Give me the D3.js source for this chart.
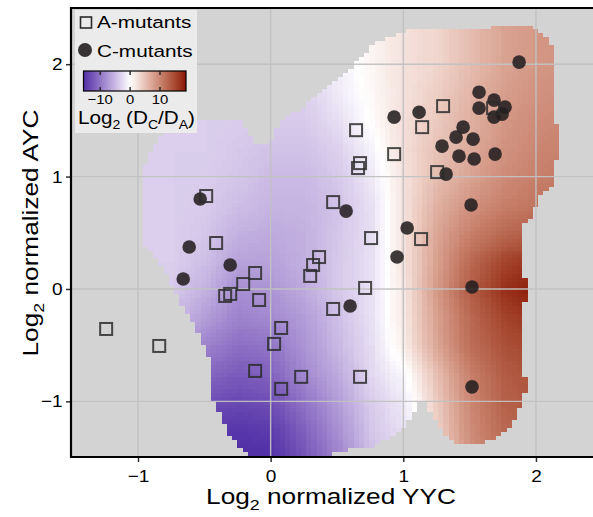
<!DOCTYPE html>
<html>
<head>
<meta charset="utf-8">
<script src="https://cdn.jsdelivr.net/npm/d3@7"></script>
<style>
  body { margin: 0; background: #fff; }
  text { font-family: "Liberation Sans", Arial, Helvetica, sans-serif; fill: #000; }
</style>
</head>
<body>
<svg id="chart" width="593" height="517"></svg>
<script>
"use strict";

// Surface grid, Log2(DC/DA) (rows top to bottom)
const gridX = [-1, -0.75, -0.5, -0.25, 0, 0.25, 0.5, 0.75, 1, 1.25, 1.5, 1.75, 2, 2.25];
const gridY = [2.5, 2.25, 2, 1.75, 1.5, 1.25, 1, 0.75, 0.5, 0.25, 0, -0.25, -0.5, -0.75, -1, -1.25, -1.5];
const gridZ = [
  [-2.5, -2.5, -2.5, -2.5, -2, -1.5, -0.5, 1, 2.5, 3.5, 5.5, 7.5, 8.5, 9],
  [-2.5, -2.5, -2.5, -2.5, -2, -1.5, -0.5, 0.8, 2.5, 3.5, 5.5, 7.5, 8.5, 9],
  [-3, -3, -3, -3, -3, -2.5, -1, 0.8, 2.5, 3.5, 5.5, 7.5, 8.5, 9],
  [-3, -3, -3, -3.3, -3.5, -3.2, -1.5, 0.5, 2.5, 4, 6, 8, 9, 9.5],
  [-3.2, -3.2, -3.3, -3.5, -3.7, -3.7, -2.2, 0.3, 2.8, 4.5, 6.5, 8.5, 9.5, 10],
  [-3.3, -3.3, -3.4, -3.8, -4.3, -4.3, -3.2, -0.8, 2.8, 5, 7, 9, 10, 10.5],
  [-3.3, -3.3, -3.5, -4, -4.8, -4.8, -3.8, -1.5, 2.5, 5.5, 7.5, 9.5, 10.5, 11],
  [-3.3, -3.3, -3.7, -4.5, -5.3, -5.3, -4.3, -2, 2.5, 6.5, 9, 10.5, 11.5, 12],
  [-3.3, -3.4, -4, -5.5, -6, -5.5, -4, -2.2, 2.5, 7.5, 10.5, 12.5, 13.5, 14],
  [-3.3, -3.4, -4.5, -6.5, -6.5, -5.5, -3.8, -2, 2.5, 8, 12.5, 15.5, 17, 17.5],
  [-3.5, -3.7, -5.5, -8, -7.5, -6, -3.8, -2, 2.2, 8.5, 13.5, 17, 18.5, 18.5],
  [-4.5, -4.7, -7, -9, -8.5, -7, -4.5, -2, 2, 8, 12.5, 15.5, 17, 17.5],
  [-6.5, -6.7, -9, -10.5, -10, -7.5, -5, -2.3, 1.5, 7.5, 12, 14.5, 15.5, 16],
  [-8.5, -9, -11, -12, -11.5, -8.5, -6, -2.7, -0.5, 5.5, 10.5, 13.5, 14.5, 15],
  [-10.5, -11, -13, -13.5, -13, -10, -7, -3.5, -1.5, 4.5, 10, 13, 14, 14.5],
  [-12.5, -13, -14.5, -15, -14.5, -11.5, -8, -4, -2, 4, 9.5, 12.5, 13.5, 14],
  [-13.5, -14, -15.5, -15.5, -15.5, -12.5, -9, -4.5, -2.5, 3.5, 9, 12, 13, 13.5]
];

// Outline of the covered region (x = YYC, y = AYC)
const maskOutline = [
  [-0.983, 0.436], [-0.983, 0.969], [-0.961, 1.084], [-0.893, 1.236], [-0.832, 1.351],
  [-0.72, 1.431], [-0.607, 1.484], [-0.207, 1.484], [-0.132, 1.298], [-0.004, 1.298],
  [0.034, 1.387], [0.109, 1.547], [0.222, 1.591], [0.298, 1.68], [0.411, 1.787],
  [0.501, 1.858], [0.599, 1.964], [0.69, 2.062], [0.765, 2.169], [0.885, 2.24],
  [1.089, 2.311], [1.564, 2.311], [1.729, 2.347], [1.955, 2.356], [2.0, 2.302],
  [2.084, 2.24], [2.121, 2.151], [2.121, 1.476], [2.159, 1.476], [2.159, 1.12],
  [2.121, 1.12], [2.121, 0.907], [2.084, 0.88], [2.038, 0.836], [2.0, 0.747],
  [1.955, 0.613], [1.88, 0.551], [1.88, 0.107], [1.925, 0.107], [1.925, -0.116],
  [1.88, -0.116], [1.88, -0.764], [1.925, -0.764], [1.925, -0.924], [1.88, -0.924],
  [1.88, -1.076], [1.843, -1.164], [1.797, -1.236], [1.752, -1.28], [1.714, -1.316],
  [1.639, -1.36], [1.368, -1.36], [1.33, -1.316], [1.292, -1.253], [1.255, -1.191],
  [1.187, -1.076], [1.142, -0.96], [1.089, -1.076], [1.051, -1.164], [1.014, -1.236],
  [0.923, -1.298], [0.84, -1.36], [0.765, -1.404], [0.486, -1.449], [0.471, -1.52],
  [-0.154, -1.52], [-0.23, -1.404], [-0.283, -1.342], [-0.32, -1.271], [-0.358, -1.191],
  [-0.396, -1.102], [-0.434, -0.96], [-0.441, -0.693], [-0.479, -0.56], [-0.516, -0.48],
  [-0.554, -0.364], [-0.592, -0.276], [-0.637, -0.204], [-0.674, -0.124], [-0.712, -0.036],
  [-0.757, 0.053], [-0.81, 0.169], [-0.87, 0.276], [-0.923, 0.347]
];

// A-mutants (open squares)
const aMutants = [
  [-1.24, -0.356], [-0.84, -0.507], [-0.486, 0.827], [-0.411, 0.409], [-0.117, 0.142],
  [-0.207, 0.044], [-0.305, -0.044], [-0.343, -0.062], [-0.087, -0.098], [-0.117, -0.729],
  [0.079, -0.347], [0.026, -0.489], [0.079, -0.889], [0.23, -0.782], [0.674, -0.782],
  [0.471, -0.178], [0.712, 0.009], [0.365, 0.284], [0.32, 0.213], [0.298, 0.116],
  [0.471, 0.773], [0.757, 0.453], [1.134, 0.444], [0.644, 1.413], [0.674, 1.12],
  [0.659, 1.076], [0.931, 1.2], [1.142, 1.44], [1.3, 1.627], [1.255, 1.04], [1.677, 1.609]
];

// C-mutants (filled circles)
const cMutants = [
  [-0.531, 0.8], [-0.614, 0.373], [-0.305, 0.213], [-0.659, 0.089], [0.569, 0.693],
  [0.599, -0.151], [1.873, 2.018], [1.571, 1.751], [1.684, 1.68], [1.571, 1.609],
  [1.767, 1.618], [1.745, 1.556], [1.684, 1.529], [1.119, 1.573], [0.931, 1.529],
  [1.451, 1.44], [1.398, 1.351], [1.526, 1.333], [1.292, 1.271], [1.42, 1.182],
  [1.534, 1.156], [1.692, 1.2], [1.323, 1.022], [1.511, 0.747], [1.029, 0.542],
  [0.953, 0.284], [1.518, 0.018], [1.518, -0.871]
];

const xTicks = [-1, 0, 1, 2];
const yTicks = [-1, 0, 1, 2];
const colorTicks = [-10, 0, 10];
const colorRange = [-15.6, 18.7];

const svg = d3.select("#chart");
const W = +svg.attr("width");

const panel = { left: 71, right: W, top: 8, bottom: 457 };
const WIDE = 1.22; // the glyphs in the figure are drawn wider than Liberation Sans

const x = d3.scaleLinear().domain([-1.505, 2.43]).range([panel.left, panel.right]);
const y = d3.scaleLinear().domain([-1.495, 2.5]).range([panel.bottom, panel.top]);

const fill = d3.scaleLinear()
  .domain([colorRange[0], 0, colorRange[1]])
  .range(["#4f2fa6", "#ffffff", "#8a1404"])
  .interpolate(d3.interpolateLab)
  .clamp(true);

const minus = d => (d < 0 ? "\u2212" + Math.abs(d) : "" + d);

svg.append("clipPath").attr("id", "panel-clip")
  .append("rect")
  .attr("x", panel.left).attr("y", panel.top)
  .attr("width", panel.right - panel.left).attr("height", panel.bottom - panel.top);

svg.append("rect")
  .attr("x", panel.left).attr("y", panel.top)
  .attr("width", panel.right - panel.left).attr("height", panel.bottom - panel.top)
  .attr("fill", "#d3d3d3");

// --- heatmap: grid values -> tiles (browser scaling), masked by outline ---
function heatmapURL(tileW, tileH) {
  const step = 0.25;
  const x0 = gridX[0] - step / 2, x1 = gridX[gridX.length - 1] + step / 2;
  const y0 = gridY[0] + step / 2, y1 = gridY[gridY.length - 1] - step / 2;
  const zLo = -17, zHi = 20;

  const src = document.createElement("canvas");
  src.width = gridX.length;
  src.height = gridY.length;
  const sctx = src.getContext("2d");
  const simg = sctx.createImageData(src.width, src.height);
  gridZ.forEach((row, j) => row.forEach((v, i) => {
    const k = (j * src.width + i) * 4;
    const g = Math.round((v - zLo) / (zHi - zLo) * 255);
    simg.data[k] = g; simg.data[k + 1] = g; simg.data[k + 2] = g; simg.data[k + 3] = 255;
  }));
  sctx.putImageData(simg, 0, 0);

  const nx = Math.round((x1 - x0) / tileW), ny = Math.round((y0 - y1) / tileH);
  const tile = document.createElement("canvas");
  tile.width = nx; tile.height = ny;
  const tctx = tile.getContext("2d");
  tctx.imageSmoothingEnabled = true;
  tctx.drawImage(src, 0, 0, nx, ny);
  const vals = tctx.getImageData(0, 0, nx, ny).data;

  const mask = document.createElement("canvas");
  mask.width = nx; mask.height = ny;
  const mctx = mask.getContext("2d");
  mctx.beginPath();
  maskOutline.forEach((p, i) => {
    const px = (p[0] - x0) / (x1 - x0) * nx, py = (y0 - p[1]) / (y0 - y1) * ny;
    if (i === 0) mctx.moveTo(px, py); else mctx.lineTo(px, py);
  });
  mctx.closePath();
  mctx.fillStyle = "#000";
  mctx.fill();
  const m = mctx.getImageData(0, 0, nx, ny).data;

  const out = tctx.createImageData(nx, ny);
  for (let k = 0; k < nx * ny; k++) {
    if (m[k * 4 + 3] < 128) continue;
    const v = zLo + vals[k * 4] / 255 * (zHi - zLo);
    const c = d3.rgb(fill(v));
    out.data[k * 4] = c.r; out.data[k * 4 + 1] = c.g; out.data[k * 4 + 2] = c.b; out.data[k * 4 + 3] = 255;
  }
  tctx.putImageData(out, 0, 0);
  return { url: tile.toDataURL(), x0: x0, x1: x1, y0: y0, y1: y1 };
}

const hm = heatmapURL(0.04, 0.035);
svg.append("g").attr("clip-path", "url(#panel-clip)")
  .append("image")
  .attr("href", hm.url)
  .attr("x", x(hm.x0)).attr("y", y(hm.y0))
  .attr("width", x(hm.x1) - x(hm.x0)).attr("height", y(hm.y1) - y(hm.y0))
  .attr("preserveAspectRatio", "none")
  .style("image-rendering", "pixelated");

// grid lines (over the surface)
const grid = svg.append("g").attr("stroke", "#c2c2c2").attr("stroke-width", 1.4).attr("opacity", 0.95);
grid.selectAll(".gx").data(xTicks).enter().append("line")
  .attr("x1", d => x(d)).attr("x2", d => x(d))
  .attr("y1", panel.top).attr("y2", panel.bottom);
grid.selectAll(".gy").data(yTicks).enter().append("line")
  .attr("x1", panel.left).attr("x2", panel.right)
  .attr("y1", d => y(d)).attr("y2", d => y(d));

// points
const pts = svg.append("g").attr("clip-path", "url(#panel-clip)");
pts.selectAll("circle").data(cMutants).enter().append("circle")
  .attr("cx", d => x(d[0])).attr("cy", d => y(d[1]))
  .attr("r", 6.8)
  .attr("fill", "#231f20").attr("fill-opacity", 0.88);

const sq = 12;
pts.selectAll("rect.a").data(aMutants).enter().append("rect")
  .attr("class", "a")
  .attr("x", d => x(d[0]) - sq / 2).attr("y", d => y(d[1]) - sq / 2)
  .attr("width", sq).attr("height", sq)
  .attr("fill", "none")
  .attr("stroke", "#2b2b2b").attr("stroke-opacity", 0.85).attr("stroke-width", 2);

// axes
const xAxis = svg.append("g")
  .attr("transform", "translate(0," + panel.bottom + ")")
  .call(d3.axisBottom(x).tickValues(xTicks).tickSize(5).tickPadding(8).tickFormat(minus));
const yAxis = svg.append("g")
  .attr("transform", "translate(" + panel.left + ",0)")
  .call(d3.axisLeft(y).tickValues(yTicks).tickSize(5).tickPadding(2.5).tickFormat(minus));
[xAxis, yAxis].forEach(a => {
  a.select(".domain").remove();
  a.selectAll(".tick line").attr("stroke", "#333").attr("stroke-width", 1.5);
  a.selectAll(".tick text")
    .attr("font-size", 17).attr("font-family", null).attr("fill", "#111")
    .attr("transform", "scale(1.12,1)");
});

// panel frame (left, bottom, top)
svg.append("path")
  .attr("d", "M" + (panel.right + 5) + "," + panel.top + "H" + panel.left + "V" + panel.bottom + "H" + (panel.right + 5))
  .attr("fill", "none").attr("stroke", "#000").attr("stroke-width", 2.2);

// text with subscripts
function subText(sel, parts, size) {
  parts.forEach(p => {
    const isSub = p[1];
    sel.append("tspan")
      .attr("font-size", isSub ? size * 0.68 : size)
      .attr("dy", isSub ? size * 0.3 : (p[2] ? -size * 0.3 : 0))
      .text(p[0]);
  });
}

const xTitle = svg.append("text")
  .attr("transform", "translate(331,504) scale(" + WIDE + ",1)")
  .attr("text-anchor", "middle");
subText(xTitle, [["Log", false], ["2", true], [" normalized YYC", false, true]], 21.5);

const yTitle = svg.append("text")
  .attr("transform", "translate(38,233) rotate(-90) scale(" + WIDE + ",1)")
  .attr("text-anchor", "middle");
subText(yTitle, [["Log", false], ["2", true], [" normalized AYC", false, true]], 21.5);

// legend
const lg = svg.append("g");
lg.append("rect")
  .attr("x", 75).attr("y", 10).attr("width", 122).attr("height", 123)
  .attr("fill", "#ebebeb");

lg.append("rect")
  .attr("x", 80.5).attr("y", 17).attr("width", 11).attr("height", 11)
  .attr("fill", "none").attr("stroke", "#2b2b2b").attr("stroke-width", 1.6);
lg.append("text").attr("transform", "translate(97,28) scale(" + WIDE + ",1)")
  .attr("font-size", 17).text("A-mutants");

lg.append("circle").attr("cx", 85).attr("cy", 50).attr("r", 7).attr("fill", "#231f20").attr("fill-opacity", 0.9);
lg.append("text").attr("transform", "translate(97,57) scale(" + WIDE + ",1)")
  .attr("font-size", 17).text("C-mutants");

// colour bar
const cb = d3.scaleLinear().domain(colorRange).range([83.5, 186]);
const grad = svg.append("defs").append("linearGradient").attr("id", "cbar");
d3.range(0, 1.0001, 0.05).forEach(t => {
  const v = colorRange[0] + t * (colorRange[1] - colorRange[0]);
  grad.append("stop").attr("offset", t).attr("stop-color", fill(v));
});
const cbTop = 71, cbH = 20;
lg.append("rect")
  .attr("x", cb.range()[0]).attr("y", cbTop)
  .attr("width", cb.range()[1] - cb.range()[0]).attr("height", cbH)
  .attr("fill", "url(#cbar)").attr("stroke", "#000").attr("stroke-width", 1.2);
lg.selectAll("line.ct").data(colorTicks).enter().append("line")
  .attr("x1", d => cb(d)).attr("x2", d => cb(d))
  .attr("y1", cbTop).attr("y2", cbTop + 4)
  .attr("stroke", "#222").attr("stroke-width", 1.4);
lg.selectAll("line.cb").data(colorTicks).enter().append("line")
  .attr("x1", d => cb(d)).attr("x2", d => cb(d))
  .attr("y1", cbTop + cbH - 4).attr("y2", cbTop + cbH)
  .attr("stroke", "#222").attr("stroke-width", 1.4);
lg.selectAll("text.cl").data(colorTicks).enter().append("text")
  .attr("transform", d => "translate(" + cb(d) + ",104) scale(1.1,1)")
  .attr("text-anchor", "middle").attr("font-size", 13.5)
  .text(minus);

const cbTitle = lg.append("text").attr("transform", "translate(78,124) scale(1.15,1)");
subText(cbTitle, [["Log", false], ["2", true], [" (D", false, true], ["C", true], ["/D", false, true], ["A", true], [")", false, true]], 18);
</script>
</body>
</html>
